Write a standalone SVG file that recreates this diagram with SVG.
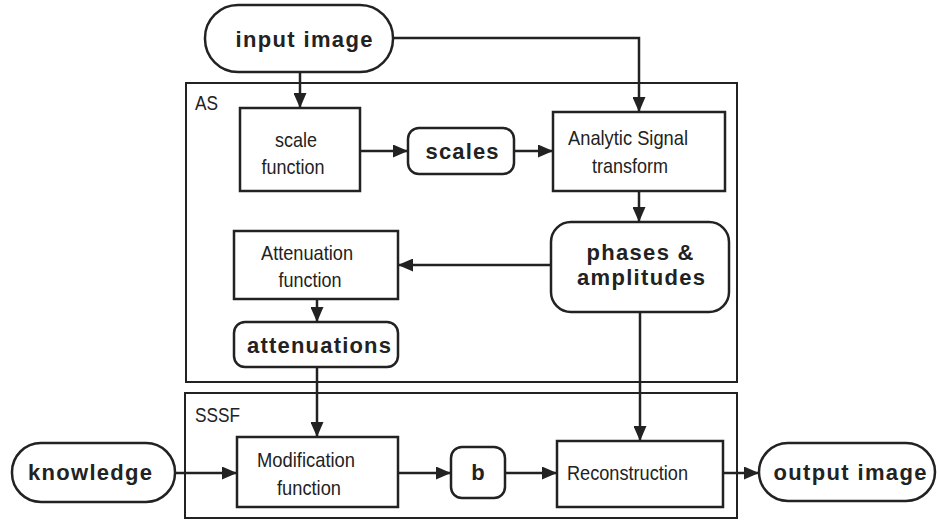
<svg xmlns="http://www.w3.org/2000/svg" width="937" height="520" viewBox="0 0 937 520">
<style>
.box{fill:#fff;stroke:#222;stroke-width:2.5}
.frame{fill:none;stroke:#222;stroke-width:2}
.bold{font-family:"Liberation Sans",Arial,sans-serif;font-weight:bold;font-size:22px;fill:#222;text-anchor:middle}
.reg{font-family:"Liberation Sans",Arial,sans-serif;font-size:21px;fill:#222;text-anchor:middle}
.lab{font-family:"Liberation Sans",Arial,sans-serif;font-size:21px;fill:#222}
.conn{fill:none;stroke:#222;stroke-width:2.5}
</style>
<defs>
<marker id="ah" viewBox="0 0 15 13" refX="15" refY="6.5" markerWidth="15" markerHeight="13" markerUnits="userSpaceOnUse" orient="auto">
<path d="M0,0 L15,6.5 L0,13 Z" fill="#222"/>
</marker>
</defs>
<g id="frame-AS">
<rect class="frame" x="186" y="83" width="551" height="299"/>
<text class="lab" x="195" y="110" textLength="23" lengthAdjust="spacingAndGlyphs">AS</text>
</g>
<g id="frame-SSSF">
<rect class="frame" x="185" y="393" width="552" height="125"/>
<text class="lab" x="195" y="422" textLength="45" lengthAdjust="spacingAndGlyphs">SSSF</text>
</g>
<g id="connectors">
<path class="conn" d="M300,72 V108" marker-end="url(#ah)"/>
<path class="conn" d="M393,38 H639 V112" marker-end="url(#ah)"/>
<path class="conn" d="M360,151 H408" marker-end="url(#ah)"/>
<path class="conn" d="M514,151 H553" marker-end="url(#ah)"/>
<path class="conn" d="M639,191 V222" marker-end="url(#ah)"/>
<path class="conn" d="M551,265 H398" marker-end="url(#ah)"/>
<path class="conn" d="M317,299 V322" marker-end="url(#ah)"/>
<path class="conn" d="M317,367 V437" marker-end="url(#ah)"/>
<path class="conn" d="M640,312 V441" marker-end="url(#ah)"/>
<path class="conn" d="M175,473 H237" marker-end="url(#ah)"/>
<path class="conn" d="M398,473 H451" marker-end="url(#ah)"/>
<path class="conn" d="M505,473 H557" marker-end="url(#ah)"/>
<path class="conn" d="M723,473 H759" marker-end="url(#ah)"/>
</g>
<g id="input-image">
<rect class="box" x="205" y="5" width="188" height="67" rx="33"/>
<text class="bold" x="304" y="47" textLength="137" lengthAdjust="spacing">input image</text>
</g>
<g id="scale-function">
<rect class="box" x="240" y="108" width="120" height="83"/>
<text class="reg" x="296" y="147" textLength="42" lengthAdjust="spacingAndGlyphs">scale</text>
<text class="reg" x="293" y="174" textLength="63" lengthAdjust="spacingAndGlyphs">function</text>
</g>
<g id="scales">
<rect class="box" x="408" y="128" width="106" height="46" rx="11"/>
<text class="bold" x="462" y="159" textLength="73" lengthAdjust="spacing">scales</text>
</g>
<g id="analytic-signal">
<rect class="box" x="553" y="112" width="172" height="79"/>
<text class="reg" x="628" y="145" textLength="120" lengthAdjust="spacingAndGlyphs">Analytic Signal</text>
<text class="reg" x="630" y="173" textLength="76" lengthAdjust="spacingAndGlyphs">transform</text>
</g>
<g id="phases-amplitudes">
<rect class="box" x="551" y="222" width="178" height="90" rx="20"/>
<text class="bold" x="640" y="260" textLength="107" lengthAdjust="spacing">phases &amp;</text>
<text class="bold" x="641" y="285" textLength="128" lengthAdjust="spacing">amplitudes</text>
</g>
<g id="attenuation-function">
<rect class="box" x="234" y="231" width="164" height="68"/>
<text class="reg" x="307" y="260" textLength="92" lengthAdjust="spacingAndGlyphs">Attenuation</text>
<text class="reg" x="310" y="287" textLength="63" lengthAdjust="spacingAndGlyphs">function</text>
</g>
<g id="attenuations">
<rect class="box" x="234" y="322" width="164" height="45" rx="11"/>
<text class="bold" x="319" y="353" textLength="144" lengthAdjust="spacing">attenuations</text>
</g>
<g id="knowledge">
<rect class="box" x="12" y="443" width="163" height="59" rx="29"/>
<text class="bold" x="90" y="480" textLength="124" lengthAdjust="spacing">knowledge</text>
</g>
<g id="modification-function">
<rect class="box" x="237" y="437" width="161" height="70"/>
<text class="reg" x="306" y="467" textLength="98" lengthAdjust="spacingAndGlyphs">Modification</text>
<text class="reg" x="309" y="495" textLength="64" lengthAdjust="spacingAndGlyphs">function</text>
</g>
<g id="b">
<rect class="box" x="451" y="447" width="54" height="51" rx="11"/>
<text class="bold" x="478" y="480">b</text>
</g>
<g id="reconstruction">
<rect class="box" x="557" y="441" width="166" height="66"/>
<text class="lab" x="567" y="480" textLength="121" lengthAdjust="spacingAndGlyphs">Reconstruction</text>
</g>
<g id="output-image">
<rect class="box" x="759" y="443" width="176" height="58" rx="29"/>
<text class="bold" x="850" y="480" textLength="153" lengthAdjust="spacing">output image</text>
</g>
</svg>
